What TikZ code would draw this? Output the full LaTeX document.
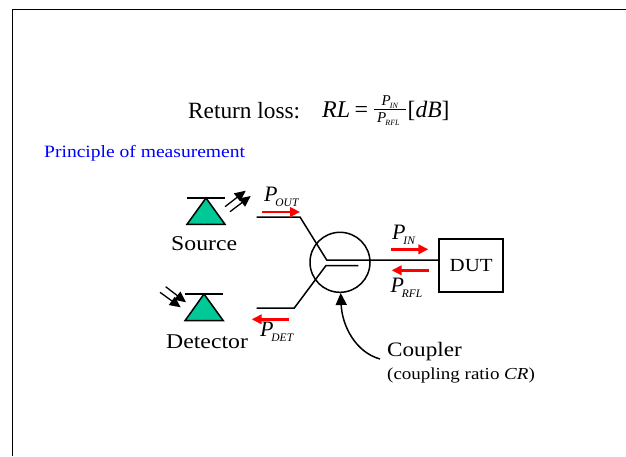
\documentclass[tikz,border=0pt]{standalone}
\usepackage{fontspec}
\usepackage{amsmath}
\usepackage{xcolor}
\usepackage{tikz}
\usetikzlibrary{arrows.meta}
\newfontfamily\timesfont{Liberation Serif}
\newfontfamily\wideserif{Liberation Serif}[FakeStretch=1.13]
\definecolor{diodeColor}{HTML}{00C896}
\definecolor{titleColor}{HTML}{0000FF}
\tikzset{
    diode/.style={draw=black, line width=1.5pt, fill=diodeColor, line join=miter},
    wire/.style={black, line width=1.5pt},
    lightray/.style={black, line width=1.3pt, -{Triangle[length=11pt,width=10pt]}},
    powerflow/.style={red, line width=2.4pt, -{Triangle[length=10pt,width=9.5pt]}},
    label/.style={inner sep=0pt, anchor=base west, font=\wideserif\fontsize{21}{23}\selectfont},
    powerlabel/.style={inner sep=0pt, anchor=base west, font=\timesfont\itshape\fontsize{22}{24}\selectfont},
    fraclabel/.style={inner sep=0pt, anchor=base west, font=\timesfont\itshape\fontsize{15}{16}\selectfont},
}
\newcommand{\powername}[2]{#1\kern-2.2pt\raisebox{-5.5pt}{\fontsize{11.5}{12}\selectfont #2}}
\newcommand{\fracname}[2]{#1\kern-1pt\raisebox{-3pt}{\fontsize{8}{9}\selectfont #2}}
\begin{document}
\begin{tikzpicture}[x=1pt, y=-1pt]
    \useasboundingbox (0,0) rectangle (626,456);
    % frame
    \draw[line width=0.9pt] (12.5,456) -- (12.5,9) -- (626,9);
    % heading
    \node[label, font=\timesfont\fontsize{23.3}{25}\selectfont] (returnloss) at (188,118) {Return loss:};
    \node[powerlabel, font=\timesfont\itshape\fontsize{24}{26}\selectfont] (rl) at (322,117) {RL};
    \node[powerlabel, font=\timesfont\fontsize{24}{26}\selectfont] (equals) at (354.5,117) {=};
    \node[fraclabel] (rlnum) at (381.5,105) {\fracname{P}{IN}};
    \node[fraclabel] (rlden) at (377,122.5) {\fracname{P}{RFL}};
    \draw[line width=0.8pt] (374,109.5) -- (406,109.5);
    \node[powerlabel, font=\timesfont\itshape\fontsize{23.5}{26}\selectfont] (db) at (407.5,117) {{\upshape[}dB{\upshape]}};
    \node[label, titleColor, font=\wideserif\fontsize{17.3}{19}\selectfont] (principle) at (44,157) {Principle of measurement};

    % source
    \coordinate (sourcetop) at (206,198);
    \draw[diode] (sourcetop) -- (187,224.3) -- (225,224.3) -- cycle;
    \draw[wire] (187,198) -- (225,198);
    \coordinate (srcA) at (225,206.7);
    \coordinate (srcB) at (245.7,190.7);
    \coordinate (srcC) at (230,211.7);
    \coordinate (srcD) at (250.7,196);
    \draw[lightray] (srcA) -- (srcB);
    \draw[lightray] (srcC) -- (srcD);
    \node[label] (source) at (171,250) {Source};

    % detector
    \coordinate (detectortop) at (204,294);
    \draw[diode] (detectortop) -- (185,320.7) -- (223.3,320.7) -- cycle;
    \draw[wire] (185,294) -- (222.7,294);
    \coordinate (detA) at (165.7,286.7);
    \coordinate (detB) at (186,302.3);
    \coordinate (detC) at (160,292.3);
    \coordinate (detD) at (180.7,307.3);
    \draw[lightray] (detA) -- (detB);
    \draw[lightray] (detC) -- (detD);
    \node[label] (detector) at (166,348) {Detector};

    % coupler and device
    \node[draw, circle, line width=1.5pt, minimum size=60pt, inner sep=0pt] (coupler) at (340,262.3) {};
    \node[draw, line width=1.5pt, minimum width=64pt, minimum height=53pt, inner sep=0pt,
        font=\wideserif\fontsize{18.5}{20}\selectfont] (dut) at (471.2,265.3) {DUT};
    \coordinate (outstart) at (256.7,217);
    \coordinate (outbend) at (300,217);
    \coordinate (injoin) at (326.7,260);
    \coordinate (detstart) at (256.7,308);
    \coordinate (detbend) at (294.3,308);
    \coordinate (detjoin) at (326,265.5);
    \coordinate (detend) at (358.3,265.5);
    \draw[wire, line join=miter] (outstart) -- (outbend) -- (injoin) -- (injoin -| dut.west);
    \draw[wire, line join=miter] (detstart) -- (detbend) -- (detjoin) -- (detend);

    % power arrows
    \coordinate (poutA) at (262,212);
    \coordinate (poutB) at (300,212);
    \coordinate (pdetA) at (289,319.3);
    \coordinate (pdetB) at (251.7,319.3);
    \coordinate (pinA) at (391,249.3);
    \coordinate (pinB) at (428.3,249.3);
    \coordinate (prflA) at (429,270.3);
    \coordinate (prflB) at (391.7,270.3);
    \draw[powerflow] (poutA) -- (poutB);
    \draw[powerflow] (pdetA) -- (pdetB);
    \draw[powerflow] (pinA) -- (pinB);
    \draw[powerflow] (prflA) -- (prflB);
    \node[powerlabel] (pout) at (264,201) {\powername{P}{OUT}};
    \node[powerlabel] (pdet) at (260,336) {\powername{P}{DET}};
    \node[powerlabel] (pin) at (392,239) {\powername{P}{IN}};
    \node[powerlabel] (prfl) at (390.5,292) {\powername{P}{RFL}};

    % coupler label
    \node[label, font=\wideserif\fontsize{20.5}{22}\selectfont] (couplername) at (387,356) {Coupler};
    \node[label, font=\wideserif\fontsize{16.8}{18}\selectfont] (ratio) at (387,379) {(coupling ratio {\itshape CR})};
    \coordinate (couplerfoot) at (380,359);
    \draw[black, line width=1.5pt, -{Triangle[length=12pt,width=11pt]}] (couplerfoot) .. controls (355,352) and (342,325) .. (340.7,293);
\end{tikzpicture}
\end{document}
